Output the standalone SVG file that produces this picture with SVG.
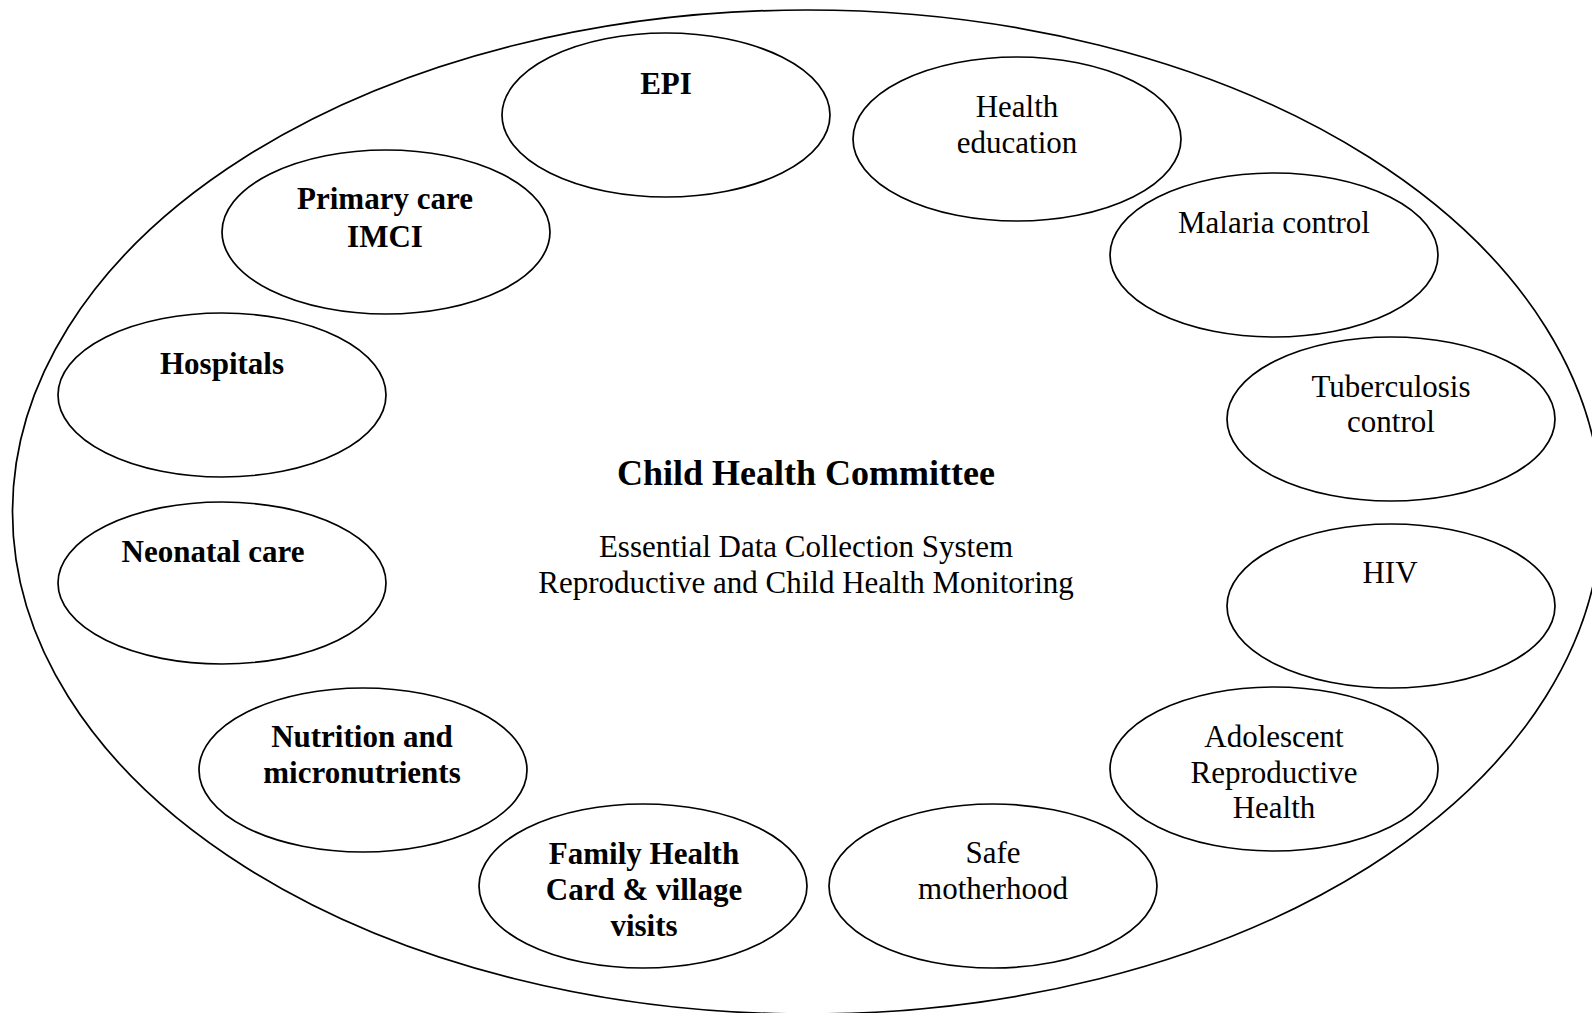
<svg xmlns="http://www.w3.org/2000/svg" width="1592" height="1013" viewBox="0 0 1592 1013">
<style>
.e{fill:#fff;stroke:#000;stroke-width:1.7}
.t{font-family:"Liberation Serif","Times New Roman",serif;font-size:31px;fill:#000;text-anchor:middle}
.b{font-weight:bold}
.h{font-size:36px;font-weight:bold}
</style>
<rect width="1592" height="1013" fill="#fff"/>
<g id="outer"><ellipse class="e" cx="807" cy="512" rx="794.5" ry="502"/></g>
<g id="center">
<text class="t h" x="806" y="485">Child Health Committee</text>
<text class="t" x="806" y="557">Essential Data Collection System</text>
<text class="t" x="806" y="593">Reproductive and Child Health Monitoring</text>
</g>
<g id="connectors"></g>
<g id="epi"><ellipse class="e" cx="666" cy="115" rx="164" ry="82"/><text class="t b" x="666" y="94">EPI</text></g>
<g id="health-education"><ellipse class="e" cx="1017" cy="139" rx="164" ry="82"/><text class="t" x="1017" y="117">Health</text><text class="t" x="1017" y="153">education</text></g>
<g id="malaria"><ellipse class="e" cx="1274" cy="255" rx="164" ry="82"/><text class="t" x="1274" y="233">Malaria control</text></g>
<g id="tuberculosis"><ellipse class="e" cx="1391" cy="419" rx="164" ry="82"/><text class="t" x="1391" y="397">Tuberculosis</text><text class="t" x="1391" y="432">control</text></g>
<g id="hiv"><ellipse class="e" cx="1391" cy="606" rx="164" ry="82"/><text class="t" x="1390" y="583">HIV</text></g>
<g id="adolescent"><ellipse class="e" cx="1274" cy="769" rx="164" ry="82"/><text class="t" x="1274" y="747">Adolescent</text><text class="t" x="1274" y="783">Reproductive</text><text class="t" x="1274" y="818">Health</text></g>
<g id="safe-motherhood"><ellipse class="e" cx="993" cy="886" rx="164" ry="82"/><text class="t" x="993" y="863">Safe</text><text class="t" x="993" y="899">motherhood</text></g>
<g id="family-health"><ellipse class="e" cx="643" cy="886" rx="164" ry="82"/><text class="t b" x="644" y="864">Family Health</text><text class="t b" x="644" y="900">Card &amp; village</text><text class="t b" x="644" y="936">visits</text></g>
<g id="nutrition"><ellipse class="e" cx="363" cy="770" rx="164" ry="82"/><text class="t b" x="362" y="747">Nutrition and</text><text class="t b" x="362" y="783">micronutrients</text></g>
<g id="neonatal"><ellipse class="e" cx="222" cy="583" rx="164" ry="81"/><text class="t b" x="213" y="562">Neonatal care</text></g>
<g id="hospitals"><ellipse class="e" cx="222" cy="395" rx="164" ry="82"/><text class="t b" x="222" y="374">Hospitals</text></g>
<g id="primary-care"><ellipse class="e" cx="386" cy="232" rx="164" ry="82"/><text class="t b" x="385" y="209">Primary care</text><text class="t b" x="385" y="247">IMCI</text></g>
</svg>
